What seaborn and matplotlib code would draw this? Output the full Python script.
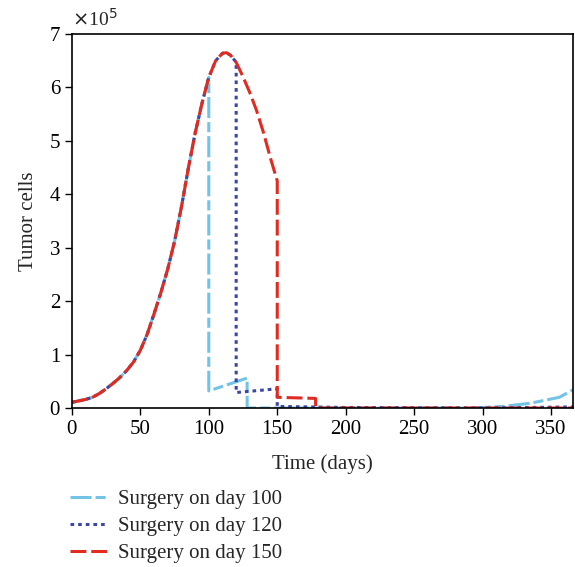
import numpy as np
import pandas as pd
import matplotlib
matplotlib.use("Agg")
import matplotlib.pyplot as plt
import seaborn as sns

# tumour growth before surgery (x1e5 cells)
grow_t = [0, 10, 15, 20, 25, 30, 35, 40, 45, 50, 55, 60, 65, 70, 75, 80, 85, 90, 95, 100,
          105, 110, 113, 116, 120, 125, 130, 135, 140, 145, 150]
grow_v = [0.106, 0.16, 0.20, 0.27, 0.36, 0.46, 0.57, 0.70, 0.86, 1.08, 1.38, 1.76, 2.16, 2.60,
          3.12, 3.76, 4.48, 5.14, 5.70, 6.19, 6.50, 6.64, 6.65, 6.60, 6.47, 6.20, 5.90, 5.56,
          5.15, 4.68, 4.25]

# after surgery
post100_t = [100, 128, 128, 150, 200, 250, 290, 300, 315, 335, 356, 366]
post100_v = [0.32, 0.56, 0.0, 0.0, 0.0, 0.0, 0.0, 0.01, 0.03, 0.09, 0.20, 0.34]
post120_t = [120, 150, 150, 200, 300, 366]
post120_v = [0.29, 0.36, 0.03, 0.01, 0.0, 0.02]
post150_t = [150, 178, 178, 250, 366]
post150_v = [0.20, 0.18, 0.0, 0.0, 0.0]

labels = ["Surgery on day 100", "Surgery on day 120", "Surgery on day 150"]
surgery_days = [100, 120, 150]
colors = ["#72c3e6", "#3a46a8", "#e02b20"]
dashes = [(6.9, 1.3, 3.3, 1.3), (1.2, 1.3), (5.2, 1.6)]


def build(day, post_t, post_v):
    t = [x for x in grow_t if x <= day]
    v = grow_v[:len(t)]
    return pd.DataFrame({"t": t + post_t, "v": np.array(v + post_v) * 1e5})


frames = [build(d, pt, pv) for d, pt, pv in zip(surgery_days, [post100_t, post120_t, post150_t],
                                                  [post100_v, post120_v, post150_v])]

sns.set_theme(style="white")
plt.rcParams["font.family"] = ["Liberation Serif", "DejaVu Serif"]

fig = plt.figure(figsize=(5.75, 5.67), dpi=100)
ax = fig.add_axes([0.125, 0.2804, 0.8715, 0.6596])

for df, lab, c, d in zip(frames, labels, colors, dashes):
    sns.lineplot(data=df, x="t", y="v", sort=False, estimator=None, ax=ax,
                 color=c, linewidth=2.2, label=lab)
    ax.lines[-1].set_dashes(d)

ax.set_xlim(0, 366)
ax.set_ylim(0, 7e5)
ax.set_xticks([0, 50, 100, 150, 200, 250, 300, 350])
ax.set_yticks(np.arange(0, 8) * 1e5)
ax.set_yticklabels([str(i) for i in range(8)])
ax.text(0.0, 1.01, r"$\times$10$^5$", transform=ax.transAxes, fontsize=14, va="bottom")
ax.set_xlabel("Time (days)", fontsize=15, labelpad=11)
ax.set_ylabel("Tumor cells", fontsize=15, labelpad=8)
ax.tick_params(axis="both", labelsize=15, direction="out", length=5, width=1,
               bottom=True, left=True, colors="black")
for s in ax.spines.values():
    s.set_color("black")
    s.set_linewidth(1.2)

ax.legend(loc="upper left", bbox_to_anchor=(-0.02, -0.195), frameon=False, fontsize=15,
          handlelength=1.8, handletextpad=0.5, labelspacing=0.36, borderaxespad=0)

fig.savefig("out.png", dpi=100)
